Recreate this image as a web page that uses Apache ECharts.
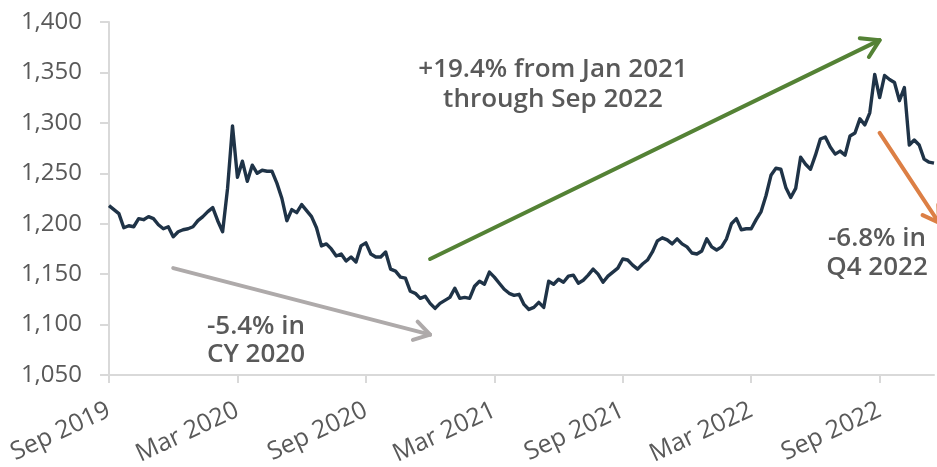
<!DOCTYPE html>
<html>
<head>
<meta charset="utf-8">
<script src="https://cdn.jsdelivr.net/npm/echarts@6/dist/echarts.min.js"></script>
<style>
  html, body { margin: 0; padding: 0; background: #ffffff; }
  #chart { width: 937px; height: 467px; }
</style>
</head>
<body>
<div id="chart"></div>
<script>
// Weekly index levels (Friday closes), first week ending 2019-09-06
const startDate = '2019-09-06';
const weeksPerTick = 26;
const tickLabels = ['Sep 2019', 'Mar 2020', 'Sep 2020', 'Mar 2021', 'Sep 2021', 'Mar 2022', 'Sep 2022'];

const levels2019H2 = [1218, 1214, 1210, 1196, 1198, 1197, 1205, 1204, 1207, 1205, 1199, 1195, 1197, 1187,
  1192, 1194, 1195, 1197, 1203, 1207, 1212, 1216, 1203, 1192, 1235, 1297, 1246];
const levels2020H1 = [1262, 1242, 1258, 1250, 1253, 1252, 1252, 1240, 1225, 1203, 1214, 1211, 1219, 1213,
  1207, 1196, 1178, 1180, 1175, 1168, 1170, 1163, 1167, 1162, 1178, 1181, 1170];
const levels2020H2 = [1167, 1167, 1172, 1155, 1153, 1147, 1146, 1133, 1131, 1126, 1128, 1121, 1116, 1121,
  1124, 1127, 1136, 1126, 1127, 1126, 1138, 1143, 1140, 1152, 1147, 1141, 1135, 1131];
const levels2021 = [1129, 1130, 1120, 1115, 1117, 1122, 1117, 1143, 1140, 1145, 1142, 1148, 1149, 1141,
  1144, 1149, 1155, 1150, 1142, 1148, 1152, 1156, 1165, 1164, 1159, 1155, 1160, 1164];
const levels2022 = [1172, 1183, 1186, 1184, 1180, 1185, 1180, 1177, 1171, 1170, 1173, 1185, 1177, 1174,
  1177, 1185, 1200, 1205, 1194, 1195, 1195, 1204, 1212, 1228, 1248, 1255, 1254, 1236, 1226, 1235,
  1266, 1259, 1254, 1268, 1284, 1286, 1276, 1269, 1272, 1268, 1287, 1290, 1304, 1298, 1310, 1348,
  1325, 1347, 1343, 1340, 1322, 1335, 1278, 1283, 1278, 1264, 1261, 1260];

// Annotation arrows in data space: [week index, level]
const arrowCY2020 = [[12.95, 1156], [65.4, 1090]];
const arrowRally = [[65.4, 1165], [155.9, 1382]];
const arrowQ42022 = [[155.7, 1290], [168.2, 1201]];

const levels = [].concat(levels2019H2, levels2020H1, levels2020H2, levels2021, levels2022);

// Week-ending dates for the category axis
const weeks = [];
(function () {
  const d0 = new Date(startDate + 'T00:00:00Z');
  for (let i = 0; i < levels.length; i++) {
    const d = new Date(d0.getTime() + i * 7 * 86400000);
    weeks.push(d.toISOString().slice(0, 10));
  }
})();

const FONT = '"Open Sans", "Noto Sans", sans-serif';
const TEXT = '#595959';
const AXIS = '#d9d9d9';

const chart = echarts.init(document.getElementById('chart'), null, { renderer: 'canvas' });

const isTick = (idx) => idx % weeksPerTick === 0;

chart.setOption({
  animation: false,
  backgroundColor: '#ffffff',
  grid: { left: 109, right: 3, top: 22, bottom: 92, containLabel: false, outerBoundsMode: 'none' },
  xAxis: {
    type: 'category',
    data: weeks,
    boundaryGap: false,
    axisLine: { lineStyle: { color: AXIS, width: 2 } },
    axisTick: { show: true, interval: (idx) => isTick(idx), length: 8, lineStyle: { color: AXIS, width: 2 } },
    axisLabel: {
      interval: (idx) => isTick(idx),
      formatter: (val, idx) => tickLabels[idx / weeksPerTick] || '',
      rotate: 25,
      margin: 34,
      color: TEXT,
      fontFamily: FONT,
      fontSize: 25
    },
    splitLine: { show: false }
  },
  yAxis: {
    type: 'value',
    min: 1050,
    max: 1400,
    interval: 50,
    axisLine: { show: true, lineStyle: { color: AXIS, width: 2 } },
    axisTick: { show: true, length: 9, lineStyle: { color: AXIS, width: 2 } },
    axisLabel: {
      margin: 27,
      color: TEXT,
      fontFamily: FONT,
      fontSize: 24,
      formatter: (v) => v.toLocaleString('en-US')
    },
    splitLine: { show: false }
  },
  series: [{
    type: 'line',
    data: levels,
    showSymbol: false,
    symbol: 'none',
    lineStyle: { color: '#1f3347', width: 3.4, join: 'round' },
    z: 3
  }]
});

// Draw an arrow with an open head between two data points
function arrowGraphics(pts, color, width, head) {
  const a = chart.convertToPixel({ gridIndex: 0 }, pts[0]);
  const b = chart.convertToPixel({ gridIndex: 0 }, pts[1]);
  const ang = Math.atan2(b[1] - a[1], b[0] - a[0]);
  const spread = 0.55;
  const w1 = [b[0] - head * Math.cos(ang - spread), b[1] - head * Math.sin(ang - spread)];
  const w2 = [b[0] - head * Math.cos(ang + spread), b[1] - head * Math.sin(ang + spread)];
  const style = { stroke: color, lineWidth: width, lineCap: 'round', lineJoin: 'round', fill: null };
  return [
    { type: 'line', shape: { x1: a[0], y1: a[1], x2: b[0], y2: b[1] }, style: style, z: 10 },
    { type: 'polyline', shape: { points: [w1, b, w2] }, style: style, z: 10 }
  ];
}

function note(text, x, y) {
  return {
    type: 'text', x: x, y: y, z: 11,
    style: { text: text, fill: TEXT, font: '600 26px ' + FONT, align: 'center', verticalAlign: 'middle' }
  };
}

chart.setOption({
  graphic: [].concat(
    arrowGraphics(arrowCY2020, '#aeaaaa', 4, 18),
    arrowGraphics(arrowRally, '#548235', 4, 20),
    arrowGraphics(arrowQ42022, '#dc7f45', 4, 18),
    [
      note('-5.4% in', 256, 327),
      note('CY 2020', 256, 355),
      note('+19.4% from Jan 2021', 553, 70),
      note('through Sep 2022', 553, 100),
      note('-6.8% in', 877, 239),
      note('Q4 2022', 877, 268)
    ]
  )
});
</script>
</body>
</html>
